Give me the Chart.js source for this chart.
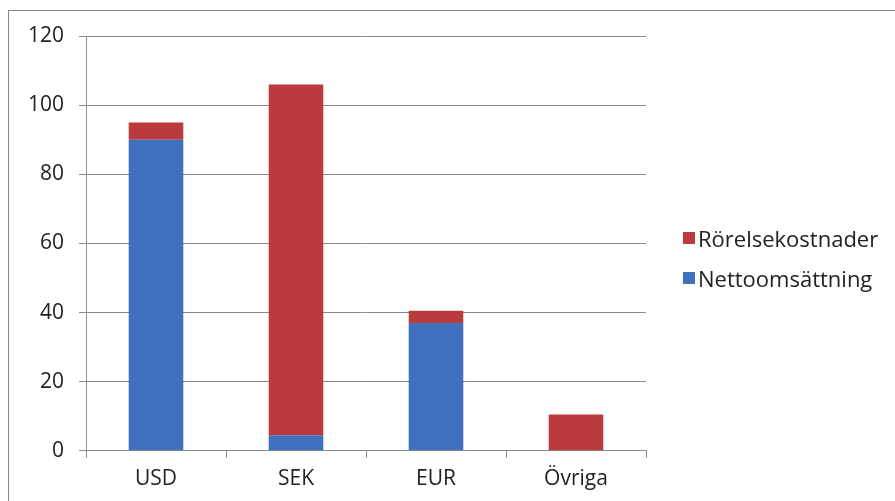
<!DOCTYPE html>
<html>
<head>
<meta charset="utf-8">
<script src="https://cdn.jsdelivr.net/npm/chart.js@4.4.1/dist/chart.umd.min.js"></script>
<style>
  html, body { margin: 0; padding: 0; background: #fff; overflow: hidden; }
  #wrap { position: relative; width: 895px; height: 501px; }
  #frame { position: absolute; left: 8px; top: 10px; width: 900px; height: 500px; border: 1px solid #8a8a8a; box-sizing: border-box; }
  canvas { position: absolute; left: 0; top: 0; }
  #legend { position: absolute; left: 683px; top: 218px; font-family: "Open Sans", sans-serif; font-size: 22px; color: #222; }
  .item { display: flex; align-items: center; height: 40px; }
  .box { width: 12px; height: 12px; margin-right: 3px; }
</style>
</head>
<body>
<div id="wrap">
  <div id="frame"></div>
  <canvas id="c" width="895" height="501"></canvas>
  <div id="legend"></div>
</div>
<script>
const categories = ["USD", "SEK", "EUR", "Övriga"];
const nettoomsattning = [90, 4.5, 37, 0];
const rorelsekostnader = [5, 101.5, 3.5, 10.5];
const seriesNames = ["Nettoomsättning", "Rörelsekostnader"];
const seriesColors = ["#4170BF", "#BA3A3E"];
const yTicks = [0, 20, 40, 60, 80, 100, 120];

const font = { family: "'Open Sans', sans-serif", size: 21 };

const chart = new Chart(document.getElementById('c'), {
  type: 'bar',
  data: {
    labels: categories,
    datasets: [
      { label: seriesNames[0], data: nettoomsattning, backgroundColor: seriesColors[0], categoryPercentage: 1, barPercentage: 0.39 },
      { label: seriesNames[1], data: rorelsekostnader, backgroundColor: seriesColors[1], categoryPercentage: 1, barPercentage: 0.39 }
    ]
  },
  options: {
    responsive: false,
    animation: false,
    layout: { padding: { left: 20, right: 249, top: 36, bottom: 0 } },
    plugins: { legend: { display: false }, tooltip: { enabled: false } },
    scales: {
      x: {
        stacked: true,
        offset: true,
        grid: { offset: true, drawOnChartArea: false, drawTicks: true, tickLength: 7, color: '#8a8a8a' },
        border: { color: '#8a8a8a' },
        ticks: { font: font, color: '#222', padding: 9 }
      },
      y: {
        stacked: true,
        min: 0, max: 120,
        afterBuildTicks: (s) => { s.ticks = yTicks.map(v => ({ value: v })); },
        afterFit: (s) => { s.width = 66; },
        grid: { color: '#8a8a8a', tickLength: 7 },
        border: { color: '#a08a9a' },
        ticks: { font: font, color: '#222', padding: 15 }
      }
    }
  }
});

const leg = document.getElementById('legend');
[1, 0].forEach(i => {
  const d = document.createElement('div');
  d.className = 'item';
  d.innerHTML = '<span class="box" style="background:' + seriesColors[i] + '"></span><span>' + seriesNames[i] + '</span>';
  leg.appendChild(d);
});
</script>
</body>
</html>
